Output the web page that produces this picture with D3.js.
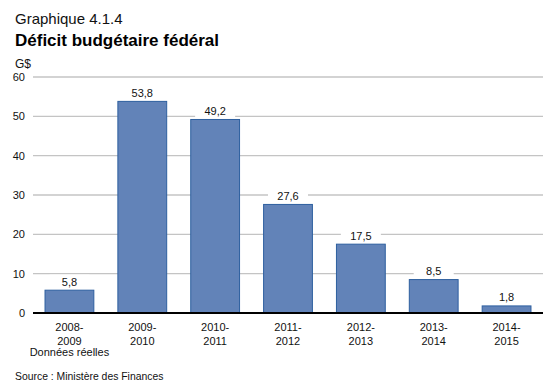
<!DOCTYPE html>
<html>
<head>
<meta charset="utf-8">
<title>Déficit budgétaire fédéral</title>
<style>
  body { margin: 0; background: #fff; }
  svg { display: block; font-family: "Liberation Sans", Arial, sans-serif; }
</style>
</head>
<body>
<div id="chart"></div>
<script src="https://d3js.org/d3.v7.min.js"></script>
<script>
// data
var years   = ["2008-2009", "2009-2010", "2010-2011", "2011-2012", "2012-2013", "2013-2014", "2014-2015"];
var deficit = [5.8, 53.8, 49.2, 27.6, 17.5, 8.5, 1.8];
var yTicks  = [0, 10, 20, 30, 40, 50, 60];

var width = 560, height = 392;
var plotLeft = 33, plotRight = 543, plotTop = 77, plotBottom = 313;

var svg = d3.select("#chart").append("svg")
    .attr("width", width)
    .attr("height", height);

// titles
svg.append("text").attr("x", 15).attr("y", 24)
    .style("font-size", "15px").style("fill", "#111")
    .text("Graphique 4.1.4");
svg.append("text").attr("x", 15).attr("y", 46)
    .style("font-size", "17px").style("font-weight", "bold").style("fill", "#000")
    .text("Déficit budgétaire fédéral");
svg.append("text").attr("x", 15).attr("y", 68)
    .style("font-size", "12px").style("fill", "#111")
    .text("G$");

var x = d3.scaleBand().domain(years).range([plotLeft, plotRight]).paddingInner(0.33).paddingOuter(0.165);
var y = d3.scaleLinear().domain([0, 60]).range([plotBottom, plotTop]);

// gridlines
svg.append("g").selectAll("line")
    .data(yTicks.filter(function(d){ return d > 0; }))
    .enter().append("line")
    .attr("x1", plotLeft).attr("x2", plotRight)
    .attr("y1", function(d){ return y(d); })
    .attr("y2", function(d){ return y(d); })
    .style("stroke", "#c4c4c4").style("stroke-width", 1.3);

// y tick labels
svg.append("g").selectAll("text")
    .data(yTicks)
    .enter().append("text")
    .attr("x", 25).attr("y", function(d){ return y(d) + 4; })
    .attr("text-anchor", "end")
    .style("font-size", "11px").style("fill", "#111")
    .text(function(d){ return d; });

// bars
svg.append("g").selectAll("rect")
    .data(deficit)
    .enter().append("rect")
    .attr("x", function(d, i){ return x(years[i]); })
    .attr("y", function(d){ return y(d); })
    .attr("width", x.bandwidth())
    .attr("height", function(d){ return plotBottom - y(d); })
    .style("fill", "#6283b8")
    .style("stroke", "#2d5f9f").style("stroke-width", 1);

// value labels with white background to cut gridlines
var fmt = function(d){ return d.toFixed(1).replace(".", ","); };
var labels = svg.append("g").selectAll("g")
    .data(deficit)
    .enter().append("g")
    .attr("transform", function(d, i){
        return "translate(" + (x(years[i]) + x.bandwidth() / 2) + "," + (y(d) - 4.5) + ")";
    });
labels.append("rect")
    .attr("x", -20).attr("y", -11).attr("width", 40).attr("height", 14)
    .style("fill", "#fff");
labels.append("text")
    .attr("text-anchor", "middle")
    .style("font-size", "11px").style("fill", "#111")
    .text(fmt);

// axis line
svg.append("line")
    .attr("x1", plotLeft).attr("x2", plotRight)
    .attr("y1", plotBottom).attr("y2", plotBottom)
    .style("stroke", "#000").style("stroke-width", 2);

// category labels
var cats = svg.append("g").selectAll("text")
    .data(years)
    .enter().append("text")
    .attr("text-anchor", "middle")
    .attr("x", function(d){ return x(d) + x.bandwidth() / 2; })
    .attr("y", 331)
    .style("font-size", "11px").style("fill", "#111");
cats.append("tspan")
    .attr("x", function(d){ return x(d) + x.bandwidth() / 2; })
    .text(function(d){ return d.split("-")[0] + "-"; });
cats.append("tspan")
    .attr("x", function(d){ return x(d) + x.bandwidth() / 2; })
    .attr("dy", 14)
    .text(function(d){ return d.split("-")[1]; });

svg.append("text")
    .attr("x", x(years[0]) + x.bandwidth() / 2).attr("y", 356)
    .attr("text-anchor", "middle")
    .style("font-size", "11px").style("fill", "#111")
    .text("Données réelles");

svg.append("text").attr("x", 15).attr("y", 380)
    .style("font-size", "10.4px").style("fill", "#111")
    .text("Source : Ministère des Finances");
</script>
</body>
</html>
